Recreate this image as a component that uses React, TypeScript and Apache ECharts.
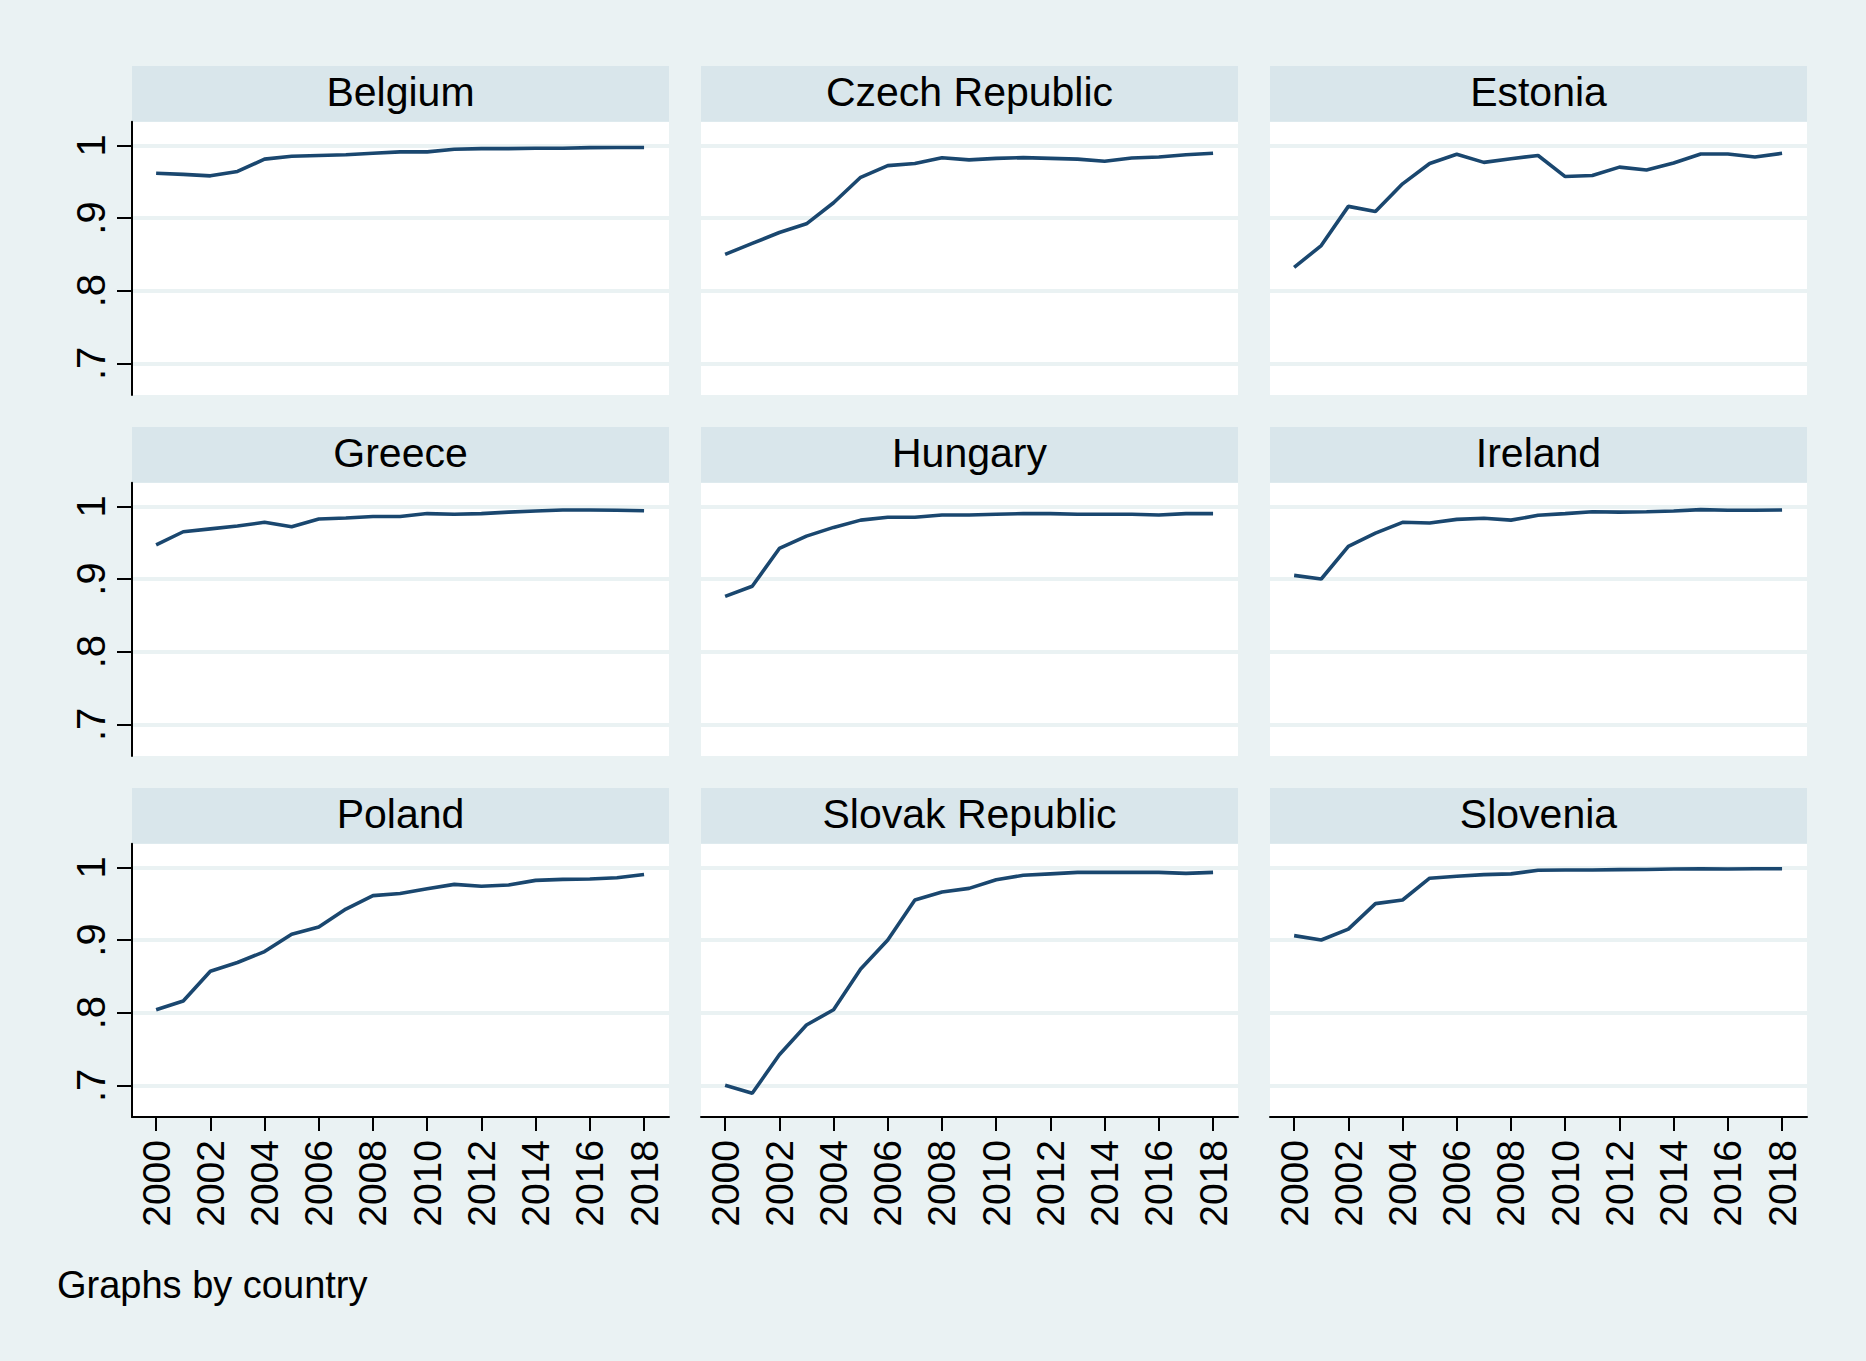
import React, { useEffect, useRef } from "react";
import * as echarts from "echarts";

const years = [2000, 2001, 2002, 2003, 2004, 2005, 2006, 2007, 2008, 2009, 2010, 2011, 2012, 2013, 2014, 2015, 2016, 2017, 2018];

const countries = ["Belgium", "Czech Republic", "Estonia", "Greece", "Hungary", "Ireland", "Poland", "Slovak Republic", "Slovenia"];

const belgium = [0.9615, 0.96, 0.958, 0.964, 0.981, 0.985, 0.986, 0.987, 0.989, 0.991, 0.991, 0.9945, 0.9954, 0.9954, 0.996, 0.996, 0.9968, 0.997, 0.997];
const czech = [0.85, 0.865, 0.88, 0.892, 0.921, 0.956, 0.972, 0.975, 0.983, 0.98, 0.982, 0.983, 0.982, 0.981, 0.978, 0.9825, 0.984, 0.987, 0.989];
const estonia = [0.832, 0.862, 0.916, 0.909, 0.947, 0.975, 0.9876, 0.9765, 0.9816, 0.986, 0.957, 0.9585, 0.97, 0.966, 0.9756, 0.988, 0.988, 0.984, 0.989];
const greece = [0.947, 0.965, 0.969, 0.973, 0.978, 0.972, 0.9825, 0.984, 0.986, 0.986, 0.99, 0.989, 0.99, 0.992, 0.9936, 0.995, 0.995, 0.9945, 0.994];
const hungary = [0.876, 0.89, 0.942, 0.959, 0.971, 0.981, 0.985, 0.985, 0.988, 0.988, 0.989, 0.99, 0.99, 0.989, 0.989, 0.989, 0.988, 0.99, 0.99];
const ireland = [0.905, 0.9, 0.945, 0.963, 0.978, 0.977, 0.982, 0.9835, 0.981, 0.9876, 0.99, 0.9926, 0.992, 0.9926, 0.9936, 0.9954, 0.9945, 0.9945, 0.995];
const poland = [0.804, 0.816, 0.857, 0.869, 0.884, 0.908, 0.918, 0.9425, 0.961, 0.964, 0.9705, 0.9765, 0.974, 0.9756, 0.982, 0.9834, 0.984, 0.9857, 0.99];
const slovak = [0.7, 0.689, 0.742, 0.783, 0.804, 0.86, 0.9, 0.955, 0.966, 0.971, 0.983, 0.989, 0.991, 0.993, 0.993, 0.993, 0.993, 0.9917, 0.993];
const slovenia = [0.906, 0.9, 0.915, 0.95, 0.955, 0.985, 0.9876, 0.99, 0.991, 0.996, 0.9963, 0.9963, 0.9968, 0.997, 0.9977, 0.998, 0.9977, 0.998, 0.998];

const seriesValues = [belgium, czech, estonia, greece, hungary, ireland, poland, slovak, slovenia];

const yTicks = [0.7, 0.8, 0.9, 1];
const yTickLabels = [".7", ".8", ".9", "1"];
const xTicks = [2000, 2002, 2004, 2006, 2008, 2010, 2012, 2014, 2016, 2018];
const footnote = "Graphs by country";

const FONT = "'Liberation Sans', Arial, Helvetica, sans-serif";
const BG = "#EAF2F3";
const STRIP = "#D9E6EB";
const LINE = "#1A476F";

export default function App() {
  const ref = useRef<HTMLDivElement>(null);

  useEffect(() => {
    if (!ref.current) return;
    const chart = echarts.init(ref.current, undefined, { renderer: "svg" });

    const colLeft = 132;
    const colPitch = 569;
    const panelW = 537;
    const stripTop = 66;
    const stripH = 55.7;
    const rowPitch = 361;
    const plotH = 273.3;

    const grids: any[] = [];
    const xAxes: any[] = [];
    const yAxes: any[] = [];
    const series: any[] = [];
    const graphics: any[] = [];

    countries.forEach((name, i) => {
      const row = Math.floor(i / 3);
      const col = i % 3;
      const left = colLeft + col * colPitch;
      const sTop = stripTop + row * rowPitch;
      const top = sTop + stripH;

      grids.push({
        left,
        top,
        width: panelW,
        height: plotH,
        show: true,
        backgroundColor: "#ffffff",
        borderWidth: 0,
      });

      graphics.push({
        type: "rect",
        shape: { x: left, y: sTop, width: panelW, height: stripH },
        style: { fill: STRIP },
        silent: true,
      });
      graphics.push({
        type: "text",
        x: left + panelW / 2,
        y: sTop + stripH / 2 - 1.5,
        style: {
          text: name,
          fontSize: 41,
          fontFamily: FONT,
          fill: "#000000",
          align: "center",
          verticalAlign: "middle",
        },
        silent: true,
      });

      const bottomRow = row === 2;
      const leftCol = col === 0;

      xAxes.push({
        gridIndex: i,
        type: "value",
        min: 1999.11,
        max: 2018.92,
        axisLine: { show: bottomRow, onZero: false, lineStyle: { color: "#000", width: 2 } },
        axisTick: {
          show: bottomRow,
          length: 14,
          customValues: xTicks,
          lineStyle: { color: "#000", width: 2 },
        },
        axisLabel: {
          show: bottomRow,
          customValues: xTicks,
          rotate: 90,
          fontSize: 39,
          fontFamily: FONT,
          color: "#000",
          margin: 23,
          formatter: (v: number) => String(Math.round(v)),
        },
        splitLine: { show: false },
      });

      yAxes.push({
        gridIndex: i,
        type: "value",
        min: 0.6564,
        max: 1.0325,
        axisLine: { show: leftCol, onZero: false, lineStyle: { color: "#000", width: 2 } },
        axisTick: {
          show: leftCol,
          length: 15,
          customValues: yTicks,
          lineStyle: { color: "#000", width: 2 },
        },
        axisLabel: {
          show: leftCol,
          customValues: yTicks,
          rotate: 90,
          fontSize: 40,
          fontFamily: FONT,
          color: "#000",
          margin: 21,
          formatter: (v: number) => {
            const k = yTicks.findIndex((t) => Math.abs(t - v) < 1e-6);
            return k >= 0 ? yTickLabels[k] : "";
          },
        },
        splitLine: { show: true, lineStyle: { color: BG, width: 4 } },
      });

      series.push({
        type: "line",
        xAxisIndex: i,
        yAxisIndex: i,
        data: years.map((y, j) => [y, seriesValues[i][j]]),
        symbol: "none",
        showSymbol: false,
        lineStyle: { color: LINE, width: 3.6 },
        z: 5,
      });
    });

    graphics.push({
      type: "text",
      x: 57,
      y: 1285,
      style: {
        text: footnote,
        fontSize: 38,
        fontFamily: FONT,
        fill: "#000000",
        align: "left",
        verticalAlign: "middle",
      },
      silent: true,
    });

    chart.setOption({
      animation: false,
      backgroundColor: BG,
      grid: grids,
      xAxis: xAxes,
      yAxis: yAxes,
      series,
      graphic: graphics,
    });

    return () => {
      chart.dispose();
    };
  }, []);

  return (
    <div
      ref={ref}
      style={{ position: "absolute", left: 0, top: 0, width: 1866, height: 1361 }}
    />
  );
}
